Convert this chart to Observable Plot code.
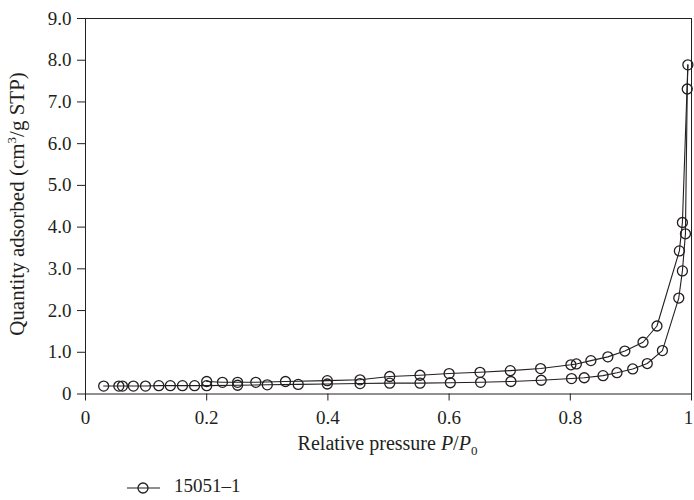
<!DOCTYPE html>
<html><head><meta charset="utf-8">
<script src="https://cdn.jsdelivr.net/npm/d3@7"></script>
<script src="https://cdn.jsdelivr.net/npm/@observablehq/plot@0.6"></script>
<style>
body{margin:0;background:#fff;font-family:"Liberation Serif",serif;color:#231f20;}
#legend{position:relative;height:35px;width:694px;}
#legend svg{position:absolute;left:122px;top:12px;}
#legend span{position:absolute;left:174px;top:11px;font-size:19px;line-height:20px;}
</style></head><body>
<div id="chart"></div>
<div id="legend"></div>
<script>
// Adsorption branch (lower curve)
const adsP = [0.030,0.055,0.061,0.079,0.099,0.121,0.140,0.160,0.180,0.200,0.251,0.300,0.351,0.399,0.453,0.502,0.552,0.602,0.652,0.702,0.752,0.802,0.823,0.854,0.877,0.903,0.927,0.952,0.979,0.985,0.990,0.993,0.994];
const adsQ = [0.19,0.19,0.19,0.19,0.19,0.20,0.20,0.20,0.20,0.20,0.21,0.22,0.23,0.24,0.25,0.26,0.26,0.27,0.28,0.30,0.33,0.37,0.39,0.44,0.51,0.60,0.73,1.04,2.30,2.95,3.84,7.31,7.89];
// Desorption branch (upper curve), starting from the last adsorption point
const desP = [0.994,0.985,0.980,0.943,0.920,0.890,0.862,0.834,0.810,0.801,0.751,0.701,0.651,0.600,0.552,0.502,0.453,0.399,0.330,0.281,0.251,0.226,0.200];
const desQ = [7.89,4.11,3.43,1.63,1.24,1.03,0.89,0.80,0.72,0.70,0.61,0.56,0.52,0.49,0.45,0.42,0.34,0.32,0.30,0.28,0.28,0.28,0.30];
const xTicks = [0,0.2,0.4,0.6,0.8,1];
const yTicks = [0,1,2,3,4,5,6,7,8,9];
const seriesName = "15051\u20131";

const ads = adsP.map((p,i)=>({p, q: adsQ[i]}));
const des = desP.map((p,i)=>({p, q: desQ[i]}));
const dots = ads.concat(des.slice(1));

const W = 694, H = 465, axisY = 393.5;
const ink = "#231f20";
const plot = Plot.plot({
  width: W, height: H,
  marginLeft: 85, marginRight: 3, marginTop: 18, marginBottom: H - axisY,
  style: {fontFamily: "Liberation Serif, serif", fontSize: "19px", color: ink, background: "#fff"},
  x: {domain: [0, 1], ticks: xTicks, tickFormat: d => d === 0 ? "0" : d === 1 ? "1" : d.toFixed(1), label: null, tickSize: 7, tickPadding: 9},
  y: {domain: [0, 9], ticks: yTicks, tickFormat: d => d === 0 ? "0" : d.toFixed(1), label: null, tickSize: 8, tickPadding: 6},
  marks: [
    Plot.frame({stroke: ink, strokeWidth: 1}),
    Plot.line(ads, {x: "p", y: "q", stroke: ink, strokeWidth: 1.1}),
    Plot.line(des, {x: "p", y: "q", stroke: ink, strokeWidth: 1.1}),
    Plot.dot(dots, {x: "p", y: "q", r: 5, stroke: ink, fill: "none", strokeWidth: 1.3})
  ]
});
document.getElementById("chart").appendChild(plot);

const svg = d3.select(plot);
// nudge the last x tick label so it stays inside the picture
svg.selectAll("g[aria-label='x-axis tick label'] text").filter(function(){ return this.textContent === "1"; }).attr("dx", -3);
// y-axis title
const yt = svg.append("text")
  .attr("transform", "translate(24,204) rotate(-90)")
  .attr("text-anchor", "middle").attr("fill", ink)
  .style("font-size", "21px");
yt.append("tspan").text("Quantity adsorbed (cm");
yt.append("tspan").attr("dy", -8).style("font-size", "13px").text("3");
yt.append("tspan").attr("dy", 8).text("/g STP)");
// x-axis title
const xt = svg.append("text")
  .attr("x", 387.5).attr("y", 450)
  .attr("text-anchor", "middle").attr("fill", ink)
  .style("font-size", "20px");
xt.append("tspan").text("Relative pressure ");
xt.append("tspan").style("font-style", "italic").text("P");
xt.append("tspan").text("/");
xt.append("tspan").style("font-style", "italic").text("P");
xt.append("tspan").attr("dy", 5).style("font-size", "13px").text("0");

// legend
const lg = d3.select("#legend");
const ls = lg.append("svg").attr("width", 44).attr("height", 20);
ls.append("line").attr("x1", 5).attr("x2", 38).attr("y1", 11).attr("y2", 11).attr("stroke", ink).attr("stroke-width", 1.1);
ls.append("circle").attr("cx", 21).attr("cy", 11).attr("r", 5).attr("fill", "none").attr("stroke", ink).attr("stroke-width", 1.3);
lg.append("span").text(seriesName);
</script>
</body></html>
